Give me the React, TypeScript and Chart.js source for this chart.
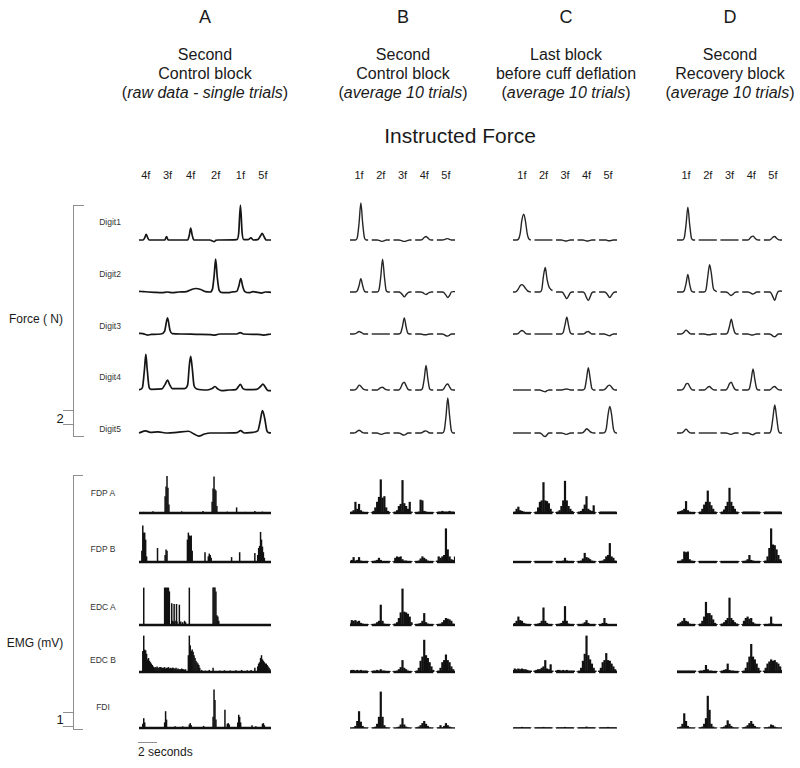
import React, { useEffect, useRef } from "react";
import { Chart, registerables } from "chart.js";

Chart.register(...registerables);

// ---------------- Text / categories ----------------
const columnLetters = ["A", "B", "C", "D"];
const titleLine1 = ["Second", "Second", "Last block", "Second"];
const titleLine2 = ["Control block", "Control block", "before cuff deflation", "Recovery block"];
const titleLine3 = ["raw data - single trials", "average 10 trials", "average 10 trials", "average 10 trials"];
const fingersA = ["4f", "3f", "4f", "2f", "1f", "5f"];
const fingerTimesA = [0.72, 3.0, 5.44, 8.07, 10.68, 13.05]; // s, instructed-force epochs in column A
const fingersBCD = ["1f", "2f", "3f", "4f", "5f"];
const forceRowLabels = ["Digit1", "Digit2", "Digit3", "Digit4", "Digit5"];
const emgRowLabels = ["FDP A", "FDP B", "EDC A", "EDC B", "FDI"];

// ---------------- Force (N), column A: [time s, force N] ----------------
const FORCE_A_DIGIT1: [number, number][] = [[0,0],[0.42,0],[0.6,0.3],[0.76,0.8],[0.92,0.3],[1.08,0],[2.72,0],[2.9,0.5],[3.07,0],[5.12,0],[5.3,0.7],[5.44,1.7],[5.6,0.7],[5.78,0],[7.47,0],[7.68,-0.1],[7.9,-0.25],[8.1,-0.05],[8.3,0],[10.3,0.05],[10.5,1.0],[10.68,5.0],[10.86,1.0],[11.05,0.05],[11.47,0.05],[11.79,0.3],[12.05,0],[12.5,0.05],[12.8,0.6],[12.97,0.95],[13.2,0.4],[13.4,0],[13.9,0]];
const FORCE_A_DIGIT2: [number, number][] = [[0,0.1],[0.5,0.05],[1.0,0],[1.6,-0.05],[2.4,-0.1],[3.0,0],[3.5,-0.1],[4.2,0],[5.0,0.05],[5.6,0.4],[6.0,0.5],[6.5,0.35],[7.0,0.05],[7.5,0],[7.75,0.5],[7.93,2.6],[8.07,4.7],[8.25,2.0],[8.45,0.2],[8.8,-0.1],[9.4,-0.1],[9.8,0],[10.3,0.1],[10.52,0.9],[10.72,1.9],[10.92,0.8],[11.15,0.05],[11.6,-0.1],[12.0,0.05],[12.5,-0.05],[12.9,-0.15],[13.3,0],[13.9,-0.05]];
const FORCE_A_DIGIT3: [number, number][] = [[0,0.1],[0.4,0.05],[0.9,-0.15],[1.3,-0.05],[2.3,0],[2.7,0.4],[3.0,2.3],[3.27,0.5],[3.5,0.05],[4.5,0],[6.0,-0.05],[7.5,-0.1],[8.0,-0.15],[8.5,0],[10.3,0],[10.65,0.2],[11.0,0],[12.5,-0.05],[13.1,-0.15],[13.9,0]];
const FORCE_A_DIGIT4: [number, number][] = [[0,0.05],[0.35,0.3],[0.58,3.0],[0.72,5.1],[0.86,3.0],[1.08,0.3],[1.3,0.1],[2.4,0.15],[2.75,0.8],[3.0,1.4],[3.25,0.7],[3.5,0.2],[4.8,0.2],[5.12,0.7],[5.3,3.5],[5.44,4.8],[5.6,3.2],[5.8,0.6],[6.1,0.15],[7.2,0],[7.7,0.2],[8.0,0.5],[8.3,0.15],[8.7,-0.1],[9.5,0],[10.2,0.05],[10.45,0.45],[10.68,0.8],[10.95,0.2],[11.4,0.05],[12.4,0.1],[12.8,0.5],[13.05,0.85],[13.35,0.3],[13.6,-0.1],[13.9,-0.1]];
const FORCE_A_DIGIT5: [number, number][] = [[0,0],[0.7,0.3],[1.2,0.1],[2.0,0.15],[3.0,0],[4.0,0.1],[5.2,0.25],[5.8,-0.15],[6.3,-0.45],[6.9,-0.15],[7.5,0],[9.0,0],[10.3,0.05],[10.7,0.35],[11.1,0],[12.0,0.1],[12.5,0.3],[12.75,1.6],[13.0,3.2],[13.25,2.0],[13.45,0.4],[13.65,0.05],[13.9,0]];

// ---------------- Force (N), columns B-D: 5 finger epochs x 11 samples (0.2 s) ----------------
const FORCE_B_DIGIT1 = [[0,0,0,0,0.3,2.4,5.3,2.4,0.3,0,0],[0,0,0,0,-0.05,-0.15,-0.2,-0.1,0,0,0],[0,0,0,0,-0.05,-0.15,-0.2,-0.15,-0.05,0,0],[0,0,0,0,0.1,0.35,0.5,0.3,0.05,0,0],[0,0,0,0,0.05,0.15,0.2,0.1,0,0,0]];
const FORCE_B_DIGIT2 = [[0,0,0,0,0.15,0.9,1.9,0.9,0.1,0,0],[0,0,0,0,0.3,2.2,4.7,2.2,0.2,0,0],[0,0,0,0,-0.1,-0.4,-0.7,-0.4,-0.1,0,0],[0,0,0,0,-0.05,-0.25,-0.35,-0.2,-0.05,0,0],[0,0,0,0,-0.1,-0.45,-0.8,-0.5,0,0.05,0.05]];
const FORCE_B_DIGIT3 = [[0,0,0,0.05,0.2,0.35,0.25,0.1,0,0,0],[0,0,0,0,0,0,0,0,0,0,0],[0,0,0,0,0.15,1.1,2.3,1.0,0.1,0,0],[0,0,0,0,-0.05,-0.1,-0.1,-0.05,0,0,0],[0,0,0,0,-0.1,-0.25,-0.3,-0.15,0,0,0]];
const FORCE_B_DIGIT4 = [[0,0,0,0.05,0.3,0.7,0.55,0.2,0.05,0,0],[0,0,0,0,0.15,0.35,0.4,0.2,0.05,0,0],[0,0,0,0,0.3,0.9,1.1,0.6,0.1,0,0],[0,0,0,0,0.2,1.6,3.5,1.6,0.15,0,0],[0,0,0,0,0.25,0.7,0.85,0.45,0.05,0,0]];
const FORCE_B_DIGIT5 = [[0,0,0,0.05,0.25,0.4,0.25,0.05,0,0,0],[0,0,0,0,-0.1,-0.2,-0.15,-0.05,0,0,0],[0,0,0,0,-0.1,-0.25,-0.3,-0.15,0,0,0],[0,0,0,0,0.1,0.25,0.3,0.15,0,0,0],[0,0,0,0,0.3,2.3,5.0,2.5,0.3,0,0]];

const FORCE_C_DIGIT1 = [[0,0,0,0.1,0.9,2.9,3.7,2.6,0.8,0.1,0],[0,0,0,0,0,0,0,0,0,0,0],[0,0,0,0,-0.05,-0.15,-0.15,-0.05,0,0,0],[0,0,0,0,-0.05,-0.15,-0.15,-0.05,0,0,0],[0,0,0,0,0,-0.1,-0.1,-0.05,0,0,0]];
const FORCE_C_DIGIT2 = [[0,0,0.1,0.45,0.9,1.05,0.85,0.5,0.2,0.05,0],[0,0,0,0,0.3,2.3,3.5,1.8,0.8,0.4,0.2],[0,0,0,0,-0.15,-0.6,-0.95,-0.55,-0.1,0,0],[0,0,0,0,-0.2,-0.8,-1.2,-0.7,-0.1,0,0],[0,0,0,0,-0.15,-0.5,-0.8,-0.45,-0.1,0,0]];
const FORCE_C_DIGIT3 = [[0,0,0,0.1,0.35,0.5,0.35,0.1,0,0,0],[0,0,0,0,0,0,0,0,0,0,0],[0,0,0,0,0.2,1.3,2.4,1.2,0.15,0,0],[0,0,0,0,0.1,0.3,0.35,0.15,0,0,0],[0,0,0,0,-0.1,-0.2,-0.25,-0.1,0,0,0]];
const FORCE_C_DIGIT4 = [[0,0,0,0,0,0,0,0,0,0,0],[0,0,0,0,-0.1,-0.2,-0.25,-0.1,0,0,0],[0,0,0,0,0.05,0.1,0.15,0.1,0,0,0],[0,0,0,0,0.2,1.6,3.2,1.7,0.2,0,0],[0,0,0,0.05,0.3,0.6,0.7,0.4,0.1,0,0]];
const FORCE_C_DIGIT5 = [[0,0,0,0,0,0,0,0,0,0,0],[0,0,0,0,-0.15,-0.4,-0.5,-0.25,0,0,0],[0,0,0,0,-0.05,-0.15,-0.2,-0.1,0,0,0],[0,0,0,0.05,0.3,0.6,0.45,0.2,0.05,0,0],[0,0,0,0.05,0.6,2.6,3.8,2.6,0.6,0.05,0]];

const FORCE_D_DIGIT1 = [[0,0,0,0,0.3,2.2,4.7,2.2,0.25,0,0],[0,0,0,0,0,0,0,0,0,0,0],[0,0,0,0,0,0,0,0,0,0,0],[0,0,0,0,0.15,0.45,0.55,0.3,0.05,0,0],[0,0,0,0,0.15,0.4,0.5,0.25,0.05,0,0]];
const FORCE_D_DIGIT2 = [[0,0,0,0,0.2,1.2,2.5,1.1,0.15,0,0],[0,0,0,0,0.3,2.2,3.9,2.6,0.6,0.2,0.05],[0,0,0,0,-0.1,-0.35,-0.5,-0.3,-0.05,0,0],[0,0,0,0,-0.05,-0.2,-0.3,-0.15,0,0,0],[0,0,0,0,-0.15,-0.7,-1.2,-0.4,0.1,0.15,0.1]];
const FORCE_D_DIGIT3 = [[0,0,0,0.05,0.3,0.55,0.35,0.1,0,0,0],[0,0,0,0,-0.05,-0.1,-0.1,-0.05,0,0,0],[0,0,0,0,0.2,1.1,2.1,1.0,0.15,0,0],[0,0,0,0,-0.05,-0.15,-0.15,-0.05,0,0,0],[0,0,0,0,-0.1,-0.3,-0.4,-0.2,0,0,0]];
const FORCE_D_DIGIT4 = [[0,0,0,0.05,0.35,0.85,0.95,0.5,0.1,0,0],[0,0,0,0,0.15,0.4,0.5,0.25,0.05,0,0],[0,0,0,0,0.3,0.9,1.1,0.55,0.1,0,0],[0,0,0,0,0.2,1.5,3.0,1.5,0.2,0,0],[0,0,0,0,0.15,0.4,0.5,0.25,0.05,0,0]];
const FORCE_D_DIGIT5 = [[0,0,0,0.05,0.3,0.55,0.3,0.05,0,0,0],[0,0,0,0,0,0,0,0,0,0,0],[0,0,0,0,-0.05,-0.15,-0.2,-0.1,0,0,0],[0,0,0,0,-0.05,-0.2,-0.25,-0.1,0,0,0],[0,0,0,0,0.4,2.2,4.0,2.3,0.4,0,0]];

// ---------------- EMG (mV), column A: rectified bursts [time s, mV] ----------------
const EMG_A_FDPA: [number, number][] = [[0.5,0.08],[1.47,0.12],[2.75,1.2],[2.85,1.9],[2.95,2.65],[3.05,1.8],[3.15,0.6],[4.5,0.12],[5.5,0.08],[6.74,0.15],[7.7,0.8],[7.8,1.75],[7.9,2.6],[8.0,1.7],[8.1,1.6],[8.2,0.5],[9.3,0.1],[10.28,0.4],[11.2,0.08],[12.2,0.15],[13.0,0.1]];
const EMG_A_FDPB: [number, number][] = [[0.3,0.8],[0.4,2.6],[0.5,2.1],[0.6,2.1],[0.7,1.6],[0.8,0.4],[1.95,1.0],[2.75,0.5],[2.85,0.9],[2.95,0.8],[5.1,1.6],[5.2,2.1],[5.3,1.9],[5.4,1.85],[5.5,1.9],[5.6,0.8],[6.95,0.7],[7.3,0.4],[7.4,0.6],[7.5,0.5],[7.6,0.3],[9.75,0.35],[10.6,0.7],[12.2,0.65],[12.5,0.5],[12.6,1.0],[12.7,1.15],[12.8,2.15],[12.9,1.6],[13.0,1.1],[13.1,0.7],[13.2,0.3]];
const EMG_A_EDCA: [number, number][] = [[0.5,2.67],[2.7,2.67],[2.8,2.67],[2.9,2.67],[3.0,2.67],[3.1,2.67],[3.2,2.4],[3.45,1.55],[3.5,0.3],[3.6,0.25],[3.7,1.5],[3.8,0.3],[3.95,1.5],[4.0,0.25],[4.25,1.45],[4.4,0.25],[4.6,0.2],[4.8,0.3],[4.9,0.2],[5.3,2.67],[7.8,2.67],[7.9,2.67],[8.0,2.67],[8.1,2.4],[8.2,0.7],[8.3,0.6],[8.4,0.3],[10.0,0.08],[12.0,0.08]];
const EMG_A_EDCB: [number, number][] = [[0.4,1.5],[0.5,2.6],[0.6,1.6],[0.7,1.55],[0.8,1.3],[0.9,0.9],[1.0,1.0],[1.1,0.8],[1.2,0.7],[1.3,0.6],[1.4,0.5],[1.5,0.4],[1.6,0.3],[1.7,0.35],[1.8,0.3],[1.9,0.4],[2.0,0.3],[2.1,0.3],[2.2,0.35],[2.3,0.35],[2.4,0.3],[2.5,0.3],[2.6,0.3],[2.7,0.35],[2.8,0.25],[2.9,0.3],[3.0,0.3],[3.1,0.35],[3.2,0.25],[3.3,0.3],[3.4,0.25],[3.5,0.3],[3.6,0.3],[3.7,0.25],[3.8,0.25],[3.9,0.3],[4.0,0.2],[4.1,0.25],[4.2,0.2],[4.3,0.2],[4.4,0.2],[4.5,0.25],[4.6,0.2],[4.7,0.2],[4.8,0.15],[4.9,0.2],[5.2,1.2],[5.3,2.6],[5.4,1.9],[5.5,1.5],[5.6,1.6],[5.7,1.45],[5.8,1.2],[5.9,1.0],[6.0,0.8],[6.1,0.7],[6.2,0.6],[6.3,0.5],[6.4,0.3],[6.6,0.15],[7.0,0.1],[7.4,0.15],[7.8,0.3],[8.5,0.1],[9.0,0.12],[9.6,0.1],[10.2,0.12],[10.8,0.15],[11.4,0.12],[11.8,0.15],[12.2,0.3],[12.5,0.4],[12.6,0.6],[12.7,0.7],[12.8,1.0],[12.9,1.2],[13.0,0.9],[13.1,0.8],[13.2,0.7],[13.3,0.6],[13.4,0.6],[13.5,0.5],[13.6,0.4],[13.7,0.3],[13.8,0.2]];
const EMG_A_FDI: [number, number][] = [[0.4,0.3],[0.5,0.7],[0.6,0.4],[2.7,0.4],[2.8,1.2],[2.9,0.6],[3.8,0.12],[4.6,0.12],[5.3,0.25],[5.4,0.35],[5.5,0.2],[6.8,0.15],[7.8,0.8],[7.9,2.75],[8.0,2.0],[8.1,0.6],[9.05,1.3],[9.3,0.3],[9.4,0.35],[9.5,0.25],[10.4,0.4],[10.5,0.95],[10.6,0.8],[10.7,0.4],[11.9,0.2],[12.3,0.12],[13.0,0.3],[13.1,0.35],[13.2,0.2]];

// ---------------- EMG (mV), columns B-D: 5 finger epochs x 11 bins (0.2 s) ----------------
const EMG_B_FDPA = [[0.05,0.1,0.2,0.8,0.3,0.65,0.2,0.1,0.05,0.05,0.05],[0.05,0.15,0.4,0.8,1.15,2.4,1.1,1.2,0.4,0.15,0.05],[0.05,0.1,0.2,0.5,0.65,2.35,0.7,0.5,0.3,0.8,0.1],[0.05,0.05,0.1,0.95,0.9,0.15,0.1,0.05,0.05,0.05,0.05],[0.05,0.1,0.1,0.15,0.1,0.1,0.1,0.15,0.1,0.1,0.05]];
const EMG_B_FDPB = [[0.05,0.15,0.35,0.1,0.15,0.35,0.1,0.05,0.05,0.05,0.05],[0.05,0.05,0.1,0.15,0.3,0.15,0.05,0.05,0.05,0.05,0.05],[0.05,0.3,0.4,0.35,0.4,0.2,0.1,0.1,0.05,0.05,0.05],[0.05,0.05,0.1,0.25,0.4,0.3,0.2,0.1,0.05,0.05,0.05],[0.1,0.4,0.3,0.4,0.5,2.4,0.9,0.4,0.2,0.15,0.4]];
const EMG_B_EDCA = [[0.1,0.35,0.3,0.35,0.25,0.3,0.15,0.1,0.05,0.05,0.05],[0.05,0.05,0.1,0.2,0.3,1.45,0.3,0.1,0.05,0.05,0.05],[0.05,0.1,0.2,0.5,0.9,2.6,0.95,0.9,0.8,0.6,0.2],[0.05,0.05,0.1,0.15,0.3,0.85,0.2,0.1,0.05,0.05,0.05],[0.05,0.05,0.1,0.2,0.35,0.5,0.45,0.4,0.3,0.1,0.05]];
const EMG_B_EDCB = [[0.1,0.15,0.15,0.1,0.15,0.1,0.15,0.1,0.1,0.1,0.05],[0.05,0.1,0.1,0.15,0.1,0.2,0.1,0.1,0.05,0.05,0.05],[0.05,0.05,0.1,0.2,0.35,0.85,0.3,0.2,0.1,0.05,0.05],[0.05,0.1,0.3,0.8,1.1,2.3,1.2,1.0,0.7,0.4,0.15],[0.05,0.1,0.3,0.7,0.85,1.25,0.85,0.7,0.4,0.2,0.05]];
const EMG_B_FDI = [[0.02,0.02,0.05,0.15,0.5,1.2,0.45,0.15,0.05,0.02,0.02],[0.02,0.05,0.1,0.3,0.8,2.6,0.8,0.2,0.05,0.02,0.02],[0.02,0.02,0.05,0.1,0.25,0.7,0.25,0.1,0.05,0.02,0.02],[0.02,0.05,0.1,0.2,0.35,0.5,0.3,0.15,0.05,0.02,0.02],[0.02,0.05,0.2,0.05,0.15,0.35,0.2,0.1,0.05,0.02,0.02]];

const EMG_C_FDPA = [[0.05,0.1,0.3,0.45,0.2,0.15,0.1,0.05,0.05,0.05,0.05],[0.05,0.1,0.4,0.8,0.9,2.2,0.9,0.85,0.7,0.3,0.1],[0.05,0.1,0.2,0.5,0.9,2.3,0.9,0.5,0.3,0.15,0.05],[0.05,0.1,0.15,0.3,0.6,1.2,0.3,0.2,0.15,0.55,0.05],[0.05,0.1,0.1,0.1,0.1,0.1,0.1,0.1,0.1,0.1,0.05]];
const EMG_C_FDPB = [[0.05,0.05,0.05,0.05,0.05,0.05,0.05,0.05,0.05,0.05,0.05],[0.05,0.05,0.05,0.05,0.05,0.05,0.05,0.05,0.05,0.05,0.05],[0.05,0.05,0.05,0.05,0.1,0.3,0.1,0.05,0.05,0.05,0.05],[0.05,0.05,0.1,0.25,0.65,0.35,0.3,0.2,0.1,0.05,0.05],[0.05,0.05,0.1,0.2,0.4,0.5,1.35,0.4,0.3,0.1,0.05]];
const EMG_C_EDCA = [[0.05,0.15,0.3,0.6,0.35,0.3,0.15,0.1,0.05,0.05,0.05],[0.05,0.05,0.1,0.15,0.3,1.25,0.3,0.15,0.05,0.05,0.05],[0.05,0.05,0.1,0.15,0.3,1.35,0.3,0.1,0.05,0.05,0.05],[0.05,0.05,0.05,0.1,0.2,0.35,0.15,0.05,0.05,0.05,0.05],[0.05,0.05,0.15,0.5,0.15,0.05,0.05,0.05,0.05,0.05,0.05]];
const EMG_C_EDCB = [[0.15,0.25,0.2,0.25,0.2,0.25,0.2,0.2,0.15,0.1,0.1],[0.1,0.15,0.2,0.2,0.3,0.4,0.85,0.25,0.2,0.55,0.1],[0.1,0.15,0.15,0.1,0.15,0.1,0.15,0.1,0.1,0.1,0.1],[0.05,0.1,0.3,0.8,1.3,2.6,1.2,0.9,0.6,0.3,0.1],[0.1,0.3,0.7,0.85,1.35,0.85,0.8,0.6,0.4,0.2,0.05]];
const EMG_C_FDI = [[0.02,0.05,0.05,0.05,0.05,0.08,0.05,0.05,0.05,0.05,0.02],[0.02,0.05,0.05,0.05,0.05,0.08,0.05,0.05,0.05,0.05,0.02],[0.02,0.05,0.05,0.05,0.05,0.08,0.05,0.05,0.05,0.05,0.02],[0.02,0.05,0.05,0.05,0.05,0.1,0.05,0.05,0.05,0.05,0.02],[0.02,0.05,0.05,0.05,0.05,0.08,0.05,0.05,0.05,0.05,0.02]];

const EMG_D_FDPA = [[0.05,0.1,0.15,0.2,0.3,0.85,0.2,0.1,0.05,0.05,0.05],[0.05,0.1,0.3,0.6,0.8,1.6,0.8,0.55,0.3,0.1,0.05],[0.05,0.1,0.25,0.5,0.8,1.8,0.8,0.5,0.3,0.1,0.05],[0.05,0.1,0.1,0.1,0.1,0.1,0.1,0.1,0.1,0.1,0.05],[0.05,0.1,0.1,0.1,0.1,0.1,0.1,0.1,0.1,0.1,0.05]];
const EMG_D_FDPB = [[0.05,0.05,0.1,0.2,0.75,0.7,0.75,0.2,0.1,0.05,0.05],[0.05,0.05,0.05,0.05,0.05,0.05,0.05,0.05,0.05,0.05,0.05],[0.05,0.05,0.05,0.05,0.05,0.05,0.05,0.05,0.05,0.05,0.05],[0.05,0.05,0.1,0.2,0.5,0.15,0.1,0.05,0.05,0.05,0.05],[0.05,0.1,0.4,1.0,2.4,1.25,1.2,0.9,0.5,0.2,0.05]];
const EMG_D_EDCA = [[0.05,0.1,0.2,0.3,0.5,0.3,0.25,0.1,0.05,0.05,0.05],[0.05,0.1,0.3,0.6,1.65,0.85,0.85,0.7,0.4,0.15,0.05],[0.05,0.1,0.2,0.35,0.5,1.95,0.5,0.35,0.2,0.1,0.05],[0.05,0.3,0.5,0.6,0.45,0.5,0.2,0.1,0.05,0.05,0.05],[0.05,0.05,0.05,0.1,0.6,0.1,0.05,0.05,0.05,0.05,0.05]];
const EMG_D_EDCB = [[0.1,0.1,0.1,0.1,0.1,0.1,0.1,0.1,0.1,0.1,0.1],[0.05,0.1,0.1,0.15,0.5,0.2,0.1,0.1,0.05,0.05,0.05],[0.05,0.1,0.15,0.2,0.6,0.15,0.1,0.1,0.05,0.05,0.05],[0.05,0.1,0.3,0.7,1.1,2.0,1.1,0.9,0.6,0.3,0.1],[0.1,0.3,0.6,0.75,0.9,0.8,0.85,0.7,0.6,0.4,0.15]];
const EMG_D_FDI = [[0.02,0.05,0.1,0.3,1.05,0.5,0.15,0.05,0.02,0.02,0.02],[0.02,0.05,0.1,0.3,0.7,2.3,1.3,0.3,0.1,0.02,0.02],[0.02,0.05,0.1,0.2,0.55,0.3,0.15,0.05,0.02,0.02,0.02],[0.02,0.05,0.1,0.2,0.35,0.5,0.3,0.15,0.05,0.02,0.02],[0.02,0.05,0.05,0.1,0.25,0.2,0.1,0.05,0.02,0.02,0.02]];

// ---------------- Layout constants ----------------
const FONT = '"Liberation Sans", Arial, Helvetica, sans-serif';
const TEXT = "#1a1a1a";
const GRAY = "#8e8e8e";
const SEG_PERIOD = 2.4; // s between epoch starts (B-D)
const SAMPLE_DT = 0.2; // s per sample (B-D)
const A_DURATION = 13.9; // s
const BCD_DURATION = 4 * SEG_PERIOD + 10 * SAMPLE_DT;
const PAD = 3;
const COLS = [
  { left: 139, width: 132, xMax: A_DURATION, center: 205 },
  { left: 350, width: 105, xMax: BCD_DURATION, center: 403 },
  { left: 513, width: 104, xMax: BCD_DURATION, center: 566 },
  { left: 677, width: 105, xMax: BCD_DURATION, center: 730 },
];
const FORCE_BASE = [240, 292, 334, 389.5, 432.5];
const EMG_BASE = [512.5, 561.5, 624.5, 672, 728];
const FORCE_LABEL_Y = [222, 274, 326, 377, 429];
const EMG_LABEL_Y = [493, 549, 607, 660, 707];
const PX_PER_N = 7;
const PX_PER_MV = 14;

const forceA = [FORCE_A_DIGIT1, FORCE_A_DIGIT2, FORCE_A_DIGIT3, FORCE_A_DIGIT4, FORCE_A_DIGIT5];
const forceBCD = [
  [FORCE_B_DIGIT1, FORCE_B_DIGIT2, FORCE_B_DIGIT3, FORCE_B_DIGIT4, FORCE_B_DIGIT5],
  [FORCE_C_DIGIT1, FORCE_C_DIGIT2, FORCE_C_DIGIT3, FORCE_C_DIGIT4, FORCE_C_DIGIT5],
  [FORCE_D_DIGIT1, FORCE_D_DIGIT2, FORCE_D_DIGIT3, FORCE_D_DIGIT4, FORCE_D_DIGIT5],
];
const emgA = [EMG_A_FDPA, EMG_A_FDPB, EMG_A_EDCA, EMG_A_EDCB, EMG_A_FDI];
const emgBCD = [
  [EMG_B_FDPA, EMG_B_FDPB, EMG_B_EDCA, EMG_B_EDCB, EMG_B_FDI],
  [EMG_C_FDPA, EMG_C_FDPB, EMG_C_EDCA, EMG_C_EDCB, EMG_C_FDI],
  [EMG_D_FDPA, EMG_D_FDPB, EMG_D_EDCA, EMG_D_EDCB, EMG_D_FDI],
];

type Spec = {
  key: string;
  left: number;
  top: number;
  width: number;
  height: number;
  xMax: number;
  yMin: number;
  yMax: number;
  datasets: any[];
};

const lineDs = (pts: { x: number; y: number }[], width: number, color: string) => ({
  type: "line",
  data: pts,
  borderColor: color,
  borderWidth: width,
  pointRadius: 0,
  fill: false,
  cubicInterpolationMode: "monotone",
  clip: 4,
});

const barDs = (pts: { x: number; y: number }[], thickness: number) => ({
  type: "bar",
  data: pts,
  backgroundColor: "#111111",
  borderWidth: 0,
  barThickness: thickness,
  grouped: false,
  inflateAmount: 0,
});

function buildSpecs(): Spec[] {
  const specs: Spec[] = [];
  const fAbove = 46, fBelow = 12, eAbove = 44, eBelow = 8;
  COLS.forEach((col, c) => {
    for (let r = 0; r < 5; r++) {
      const fds: any[] = [];
      if (c === 0) {
        fds.push(lineDs(forceA[r].map(([x, y]) => ({ x, y })), 1.7, "#151515"));
      } else {
        forceBCD[c - 1][r].forEach((seg, s) => {
          fds.push(lineDs(seg.map((y, k) => ({ x: s * SEG_PERIOD + k * SAMPLE_DT, y })), 1.4, "#262626"));
        });
      }
      specs.push({
        key: `f${c}${r}`,
        left: col.left - PAD,
        top: FORCE_BASE[r] - fAbove,
        width: col.width + 2 * PAD,
        height: fAbove + fBelow,
        xMax: col.xMax,
        yMin: -fBelow / PX_PER_N,
        yMax: fAbove / PX_PER_N,
        datasets: fds,
      });
      const eds: any[] = [];
      if (c === 0) {
        eds.push(barDs(emgA[r].map(([x, y]) => ({ x, y })), 1.5));
        eds.push(lineDs([{ x: 0, y: 0 }, { x: A_DURATION, y: 0 }], 2.4, "#111111"));
      } else {
        emgBCD[c - 1][r].forEach((seg, s) => {
          eds.push(barDs(seg.map((y, k) => ({ x: s * SEG_PERIOD + k * SAMPLE_DT, y })), 2.2));
          eds.push(lineDs([{ x: s * SEG_PERIOD, y: 0 }, { x: s * SEG_PERIOD + 10 * SAMPLE_DT, y: 0 }], r === 4 ? 1.2 : 2.4, "#111111"));
        });
      }
      specs.push({
        key: `e${c}${r}`,
        left: col.left - PAD,
        top: EMG_BASE[r] - eAbove,
        width: col.width + 2 * PAD,
        height: eAbove + eBelow,
        xMax: col.xMax,
        yMin: -eBelow / PX_PER_MV,
        yMax: eAbove / PX_PER_MV,
        datasets: eds,
      });
    }
  });
  return specs;
}

function Panel({ spec }: { spec: Spec }) {
  const ref = useRef<HTMLCanvasElement>(null);
  useEffect(() => {
    if (!ref.current) return;
    const chart = new Chart(ref.current, {
      type: "line",
      data: { datasets: spec.datasets },
      options: {
        animation: false,
        responsive: false,
        events: [],
        devicePixelRatio: 1,
        layout: { padding: { left: PAD, right: PAD, top: 0, bottom: 0 } },
        plugins: { legend: { display: false }, tooltip: { enabled: false }, title: { display: false } },
        scales: {
          x: { type: "linear", display: false, min: 0, max: spec.xMax, offset: false },
          y: { type: "linear", display: false, min: spec.yMin, max: spec.yMax },
        },
        elements: { point: { radius: 0 } },
      } as any,
    } as any);
    return () => chart.destroy();
  }, []);
  return (
    <canvas
      ref={ref}
      width={spec.width}
      height={spec.height}
      style={{ position: "absolute", left: spec.left, top: spec.top, width: spec.width, height: spec.height }}
    />
  );
}

function Txt({ x, y, size, children, align = "center", color = TEXT }: any) {
  const tx = align === "center" ? "-50%" : align === "right" ? "-100%" : "0";
  return (
    <div
      style={{
        position: "absolute",
        left: x,
        top: y,
        transform: `translate(${tx}, -50%)`,
        fontSize: size,
        lineHeight: 1,
        whiteSpace: "nowrap",
        color,
        fontFamily: FONT,
      }}
    >
      {children}
    </div>
  );
}

function HLine({ x1, x2, y }: { x1: number; x2: number; y: number }) {
  return <div style={{ position: "absolute", left: x1, top: y - 0.5, width: x2 - x1, height: 1, background: GRAY }} />;
}
function VLine({ x, y1, y2 }: { x: number; y1: number; y2: number }) {
  return <div style={{ position: "absolute", left: x - 0.5, top: y1, width: 1, height: y2 - y1, background: GRAY }} />;
}

export default function App() {
  const specs = buildSpecs();
  const fingerX = (c: number, i: number) => {
    if (c === 0) return COLS[0].left + (fingerTimesA[i] / A_DURATION) * COLS[0].width;
    const col = COLS[c];
    const t = i * SEG_PERIOD + 5 * SAMPLE_DT;
    return col.left + (t / col.xMax) * col.width;
  };
  return (
    <div style={{ position: "absolute", left: 0, top: 0, width: 800, height: 768, background: "#fff", overflow: "hidden" }}>
      {COLS.map((col, c) => (
        <React.Fragment key={`h${c}`}>
          <Txt x={col.center} y={17} size={18}>{columnLetters[c]}</Txt>
          <Txt x={col.center} y={55} size={16}>{titleLine1[c]}</Txt>
          <Txt x={col.center} y={74} size={16}>{titleLine2[c]}</Txt>
          <Txt x={col.center} y={93} size={16}>
            (<i>{titleLine3[c]}</i>)
          </Txt>
          {(c === 0 ? fingersA : fingersBCD).map((f, i) => (
            <Txt key={`fl${c}${i}`} x={fingerX(c, i)} y={175} size={11}>{f}</Txt>
          ))}
        </React.Fragment>
      ))}
      <Txt x={460} y={135} size={21}>Instructed Force</Txt>

      {forceRowLabels.map((l, r) => (
        <Txt key={`fr${r}`} x={110} y={FORCE_LABEL_Y[r]} size={8.5} color="#333">{l}</Txt>
      ))}
      {emgRowLabels.map((l, r) => (
        <Txt key={`er${r}`} x={103} y={EMG_LABEL_Y[r]} size={8.5} color="#333">{l}</Txt>
      ))}

      {/* Force bracket and 2 N scale */}
      <VLine x={73} y1={205} y2={436} />
      <HLine x1={73} x2={84} y={205} />
      <HLine x1={73} x2={84} y={436} />
      <HLine x1={63} x2={73} y={410} />
      <HLine x1={63} x2={73} y={424} />
      <Txt x={60} y={418} size={13}>2</Txt>
      <Txt x={36} y={319} size={12}>Force ( N)</Txt>

      {/* EMG bracket and 1 mV scale */}
      <VLine x={73} y1={475} y2={729} />
      <HLine x1={73} x2={83} y={475} />
      <HLine x1={73} x2={83} y={729} />
      <HLine x1={63} x2={73} y={712} />
      <HLine x1={63} x2={73} y={726} />
      <Txt x={60} y={719} size={13}>1</Txt>
      <Txt x={35} y={643} size={12}>EMG (mV)</Txt>

      {/* time scale */}
      <HLine x1={138} x2={157} y={742} />
      <Txt x={138} y={752} size={12} align="left">2 seconds</Txt>

      {specs.map((s) => (
        <Panel key={s.key} spec={s} />
      ))}
    </div>
  );
}
